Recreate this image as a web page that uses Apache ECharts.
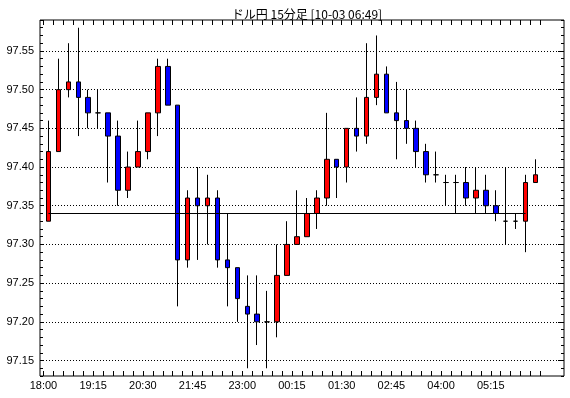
<!DOCTYPE html>
<html>
<head>
<meta charset="utf-8">
<title>ドル円 15分足</title>
<script src="https://cdn.jsdelivr.net/npm/echarts@6/dist/echarts.min.js"></script>
<style>
  html, body { margin: 0; padding: 0; background: #fff; }
  #main { width: 570px; height: 398px; }
</style>
</head>
<body>
<div id="main"></div>
<script>
'use strict';

// 15分足のデータ
var times = ['18:00','18:15','18:30','18:45','19:00','19:15','19:30','19:45','20:00','20:15',
             '20:30','20:45','21:00','21:15','21:30','21:45','22:00','22:15','22:30','22:45',
             '23:00','23:15','23:30','23:45','00:00','00:15','00:30','00:45','01:00','01:15',
             '01:30','01:45','02:00','02:15','02:30','02:45','03:00','03:15','03:30','03:45',
             '04:00','04:15','04:30','04:45','05:00','05:15','05:30','05:45','06:00','06:15'];

var opens  = [97.33,97.42,97.50,97.51,97.49,97.47,97.47,97.44,97.37,97.40,
              97.42,97.47,97.53,97.48,97.28,97.36,97.35,97.36,97.28,97.27,
              97.22,97.21,97.20,97.20,97.26,97.30,97.31,97.34,97.36,97.41,
              97.40,97.45,97.44,97.49,97.52,97.47,97.46,97.45,97.42,97.39,
              97.38,97.38,97.38,97.36,97.37,97.35,97.33,97.33,97.33,97.38];
var closes = [97.42,97.50,97.51,97.49,97.47,97.47,97.44,97.37,97.40,97.42,
              97.47,97.53,97.48,97.28,97.36,97.35,97.36,97.28,97.27,97.23,
              97.21,97.20,97.20,97.26,97.30,97.31,97.34,97.36,97.41,97.40,
              97.45,97.44,97.49,97.52,97.47,97.46,97.45,97.42,97.39,97.39,
              97.38,97.38,97.36,97.37,97.35,97.34,97.33,97.33,97.38,97.39];
var lows   = [97.33,97.42,97.49,97.44,97.45,97.45,97.38,97.35,97.36,97.40,
              97.41,97.44,97.48,97.22,97.27,97.28,97.30,97.27,97.22,97.20,
              97.14,97.17,97.14,97.18,97.26,97.30,97.31,97.32,97.35,97.36,
              97.38,97.42,97.43,97.48,97.47,97.41,97.43,97.40,97.38,97.38,
              97.35,97.34,97.35,97.34,97.34,97.33,97.30,97.32,97.29,97.38];
var highs  = [97.46,97.54,97.56,97.58,97.50,97.50,97.47,97.46,97.42,97.46,
              97.47,97.54,97.54,97.48,97.37,97.40,97.39,97.37,97.34,97.27,
              97.26,97.26,97.24,97.30,97.33,97.37,97.36,97.37,97.47,97.41,
              97.45,97.49,97.56,97.57,97.53,97.51,97.50,97.46,97.43,97.42,
              97.39,97.39,97.40,97.40,97.39,97.37,97.40,97.34,97.39,97.41];

var tickVals = [97.15,97.20,97.25,97.30,97.35,97.40,97.45,97.50,97.55];
var refLevel = 97.34;
var yMin = 97.13, yMax = 97.59;

var kData = [];
for (let i = 0; i < times.length; i++) {
    kData.push([opens[i], closes[i], lows[i], highs[i]]);   // ECharts順: 始値,終値,安値,高値
}

var myChart = echarts.init(document.getElementById('main'), null, {renderer: 'canvas'});

var numFont = {fontFamily: 'Liberation Sans, Arial, sans-serif', fontSize: 11, color: '#000'};

var option = {
    backgroundColor: '#fff',
    animation: false,
    title: {
        text: 'ドル円 15分足 [10-03 06:49]',
        left: 302,
        top: 3,
        textAlign: 'center',
        textStyle: {fontFamily: 'Noto Sans CJK JP', fontSize: 12, fontWeight: 'normal', color: '#000'}
    },
    grid: [
        {left: 40, top: 20, width: 524, height: 356, show: true, borderColor: '#000', borderWidth: 1, backgroundColor: 'transparent'},
        {left: 43.5, top: 20, width: 497, height: 356}
    ],
    xAxis: [
        {gridIndex: 0, type: 'value', min: 0, max: 1, show: false},
        {
            gridIndex: 1, type: 'category', data: times, position: 'bottom', boundaryGap: true,
            axisLine: {show: false},
            axisTick: {show: true, inside: true, length: 5, interval: 0, lineStyle: {color: '#000'}},
            axisLabel: Object.assign({interval: 4, margin: 4, padding: [0, 10, 0, 0]}, numFont),
            splitLine: {show: false}
        },
        {
            gridIndex: 1, type: 'category', data: times, position: 'top', boundaryGap: true,
            axisLine: {show: false},
            axisTick: {show: true, inside: true, length: 5, interval: 0, lineStyle: {color: '#000'}},
            axisLabel: {show: false},
            splitLine: {show: false}
        }
    ],
    yAxis: [
        {
            gridIndex: 0, type: 'value', position: 'left', min: yMin, max: yMax, interval: 0.01,
            axisLine: {show: false},
            axisTick: {show: true, inside: true, length: 3, lineStyle: {color: '#000'}},
            axisLabel: Object.assign({customValues: tickVals, margin: 6, formatter: function (v) { return v.toFixed(2); }}, numFont),
            splitLine: {show: false}
        },
        {
            gridIndex: 0, type: 'value', position: 'right', min: yMin, max: yMax, interval: 0.01,
            axisLine: {show: false},
            axisTick: {show: true, inside: true, length: 3, lineStyle: {color: '#000'}},
            axisLabel: {show: false},
            splitLine: {show: false}
        },
        {
            gridIndex: 0, type: 'value', position: 'right', min: yMin, max: yMax,
            axisLine: {show: false},
            axisTick: {show: true, inside: true, length: 6, customValues: tickVals, lineStyle: {color: '#000'}},
            axisLabel: {show: false},
            splitLine: {show: true, lineStyle: {color: '#000', width: 1, type: [1, 2]}}
        },
        {gridIndex: 1, type: 'value', min: yMin, max: yMax, show: false, splitLine: {show: false}}
    ],
    series: [{
        type: 'candlestick',
        xAxisIndex: 1,
        yAxisIndex: 3,
        data: kData,
        barWidth: 5,
        itemStyle: {
            color: '#ff0000',
            color0: '#0000ff',
            borderColor: '#000',
            borderColor0: '#000',
            borderColorDoji: '#000',
            borderWidth: 1
        },
        emphasis: {disabled: true},
        markLine: {
            silent: true,
            symbol: 'none',
            label: {show: false},
            lineStyle: {color: '#000', width: 1, type: 'solid'},
            data: [[{coord: [0, refLevel]}, {coord: [48, refLevel]}]]
        }
    }]
};

myChart.setOption(option);
</script>
</body>
</html>
